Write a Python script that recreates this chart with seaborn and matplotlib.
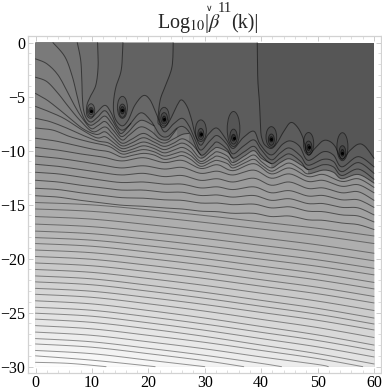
import numpy as np
import matplotlib
matplotlib.use("Agg")
import matplotlib.pyplot as plt
from matplotlib.patches import Ellipse
import seaborn as sns

# contour lines as (k, value) pairs, darkest level first
LINE_F = [(39.3,0),(39.4,-3.4),(39.7,-5.6),(39.9,-8.1),(40.2,-9.0),(40.7,-9.5),(41.8,-9.8),(42.8,-9.3),(43.9,-8.3),(45.2,-7.4),(46.4,-7.8),(47.4,-8.8),(48.3,-10.4),(49.5,-9.8),(50.9,-9.1),(52.0,-9.1),(53.1,-9.6),(54.3,-10.8),(55.7,-10.0),(57.2,-9.4),(58.4,-9.6),(60,-10.7)]
LINE_E = [(24.4,0),(24.2,-2.2),(23.1,-3.9),(22.1,-5.3),(21.7,-7.2),(22.0,-7.6),(22.8,-7.85),(23.8,-7.2),(25.1,-5.8),(25.9,-5.3),(26.9,-5.95),(27.7,-7.2),(28.3,-8.5),(29.3,-9.5),(30.6,-8.5),(32.1,-7.9),(33.6,-8.8),(35.0,-9.8),(36.8,-8.8),(38.7,-8.2),(39.8,-9.4),(41.8,-10.4),(43.8,-9.4),(45.2,-9.1),(46.8,-9.6),(48.3,-10.9),(51.0,-10.1),(52.8,-10.4),(54.3,-11.5),(57.2,-10.55),(60,-11.5)]
LINE_D = [(15.5,0),(15.2,-2.5),(14.2,-4.2),(13.8,-5.8),(14.1,-7.0),(15.3,-7.7),(16.4,-7.2),(17.6,-5.8),(19.1,-4.9),(20.3,-5.3),(21.5,-6.7),(22.8,-8.25),(24.5,-7.5),(26.0,-7.0),(27.2,-7.7),(28.3,-9.0),(29.3,-9.95),(30.9,-9.1),(32.2,-8.6),(33.9,-9.4),(35.0,-10.3),(36.8,-9.6),(38.7,-9.0),(40,-9.9),(41.8,-10.85),(43.4,-10.2),(45,-9.75),(47,-10.5),(48.3,-11.35),(51,-10.8),(52.8,-11.0),(54.3,-11.95),(57.2,-11.1),(60,-12.1)]
LINE_C = [(11,0),(11.1,-2.1),(10.7,-3.9),(9.7,-5.0),(9.1,-5.8),(9.1,-6.7),(9.84,-7.0),(10.8,-6.5),(12.3,-5.8),(13.4,-6.5),(14.3,-7.6),(15.3,-8.1),(16.5,-7.7),(18.6,-6.5),(20.4,-7.2),(22.0,-8.5),(23.4,-8.7),(25.1,-7.9),(26.3,-7.8),(27.5,-8.5),(29.3,-10.4),(31.2,-9.6),(32.2,-9.2),(34,-9.9),(35,-10.7),(37,-10.1),(38.7,-9.6),(40,-10.4),(41.8,-11.2),(43.4,-10.7),(45,-10.3),(47,-11),(48.3,-11.75),(51,-11.3),(52.8,-11.5),(54.3,-12.3),(57.2,-11.7),(60,-12.65)]
LINE_G = [(7.4,0),(8.0,-1.6),(8.2,-3.4),(8.3,-5.0),(8.5,-6.2),(9.0,-7.0),(9.84,-7.35),(11,-6.9),(12.3,-6.3),(13.5,-7.1),(14.5,-8.0),(15.3,-8.4),(16.9,-7.47)]
LINE_H = [(3.1,0),(5.2,-1.3),(6.5,-3.1),(7.4,-5.0),(8.1,-6.4),(8.9,-7.3),(9.84,-7.65),(11,-7.3),(12.3,-6.8),(13.5,-7.5),(14.5,-8.3),(15.3,-8.7),(16.4,-8.3),(18,-7.4),(19.1,-7.2),(21,-7.7)]
LINE_P1 = [(0,-1.5),(2,-1.95),(4,-3.0),(5.8,-4.7),(7.1,-6.0),(8.3,-7.0),(9.84,-7.95),(11,-7.7),(12.3,-7.3),(13.6,-8.0),(15.3,-9.0),(16.5,-8.6),(18.6,-7.8),(20.5,-8.2),(22,-8.9),(23.4,-9.0),(24.3,-8.5),(25.1,-7.95)]
LINE_P2 = [(0,-3.2),(2,-3.6),(4,-4.7),(5.8,-5.9),(7.9,-7.2),(10.2,-8.25),(12.3,-7.8),(13.6,-8.4),(15.3,-9.3),(17,-8.95),(19.1,-8.4),(21,-8.9),(22.8,-9.3),(24.5,-8.9),(26,-8.5),(27.2,-8.4)]
LINE_P3 = [(0,-4.7),(2,-5.3),(4,-6.1),(6.1,-7.0),(8.5,-8.0),(10.8,-8.5),(12.3,-8.25),(13.6,-8.8),(15.3,-9.55),(17,-9.3),(19.1,-8.8),(21,-9.2),(22.8,-9.6),(24.5,-9.3),(26,-8.9),(27.5,-9.3),(28.7,-10.0),(29.3,-10.4)]
LINE_P4 = [(0,-5.9),(2,-6.3),(5,-7.0),(8,-8.0),(10.8,-8.8),(12.3,-8.7),(13.6,-9.15),(15.3,-9.8),(17,-9.6),(19.1,-9.2),(21,-9.5),(22.8,-9.9),(24.5,-9.6),(26,-9.3),(27.5,-9.7),(29.3,-10.7),(31.2,-10.0),(32.2,-9.7),(34,-10.1),(35,-10.7)]
LINE_P5 = [(0,-7),(2.5,-7.3),(5.5,-7.9),(8.5,-8.6),(11,-9.1),(13,-9.3),(15.3,-10.05),(17,-9.9),(19.1,-9.55),(21,-9.8),(22.8,-10.2),(24.5,-9.95),(26,-9.7),(27.5,-10.1),(29.3,-11.0),(31.2,-10.4),(32.2,-10.1),(34,-10.5),(35,-11.1),(37,-10.5),(38.7,-10.0),(40,-10.7),(41.8,-11.2)]
LINE_P6 = [(0,-7.9),(3.1,-8.1),(6.1,-8.7),(9.6,-9.2),(13,-9.6),(15.3,-10.3),(17,-10.15),(19.1,-9.9),(21,-10.1),(22.8,-10.5),(24.5,-10.3),(26,-10.1),(27.5,-10.45),(29.3,-11.2),(31.2,-10.75),(32.2,-10.5),(34,-10.85),(35,-11.35),(37,-10.85),(38.7,-10.4),(40,-11),(41.8,-11.6),(43.4,-11.1),(45,-10.75),(47,-11.3),(48.3,-11.75)]
LINE_P7 = [(0,-8.85),(3.5,-9.1),(7,-9.5),(10.5,-9.9),(13,-10.1),(15.3,-10.6),(17,-10.45),(19.1,-10.25),(21,-10.4),(22.8,-10.8),(24.5,-10.65),(26,-10.45),(27.5,-10.8),(29.3,-11.45),(31.2,-11.05),(32.2,-10.9),(34,-11.2),(35,-11.6),(37,-11.15),(38.7,-10.8),(40,-11.3),(41.8,-11.9),(43.4,-11.5),(45,-11.15),(47,-11.7),(48.3,-12.15),(51,-11.8),(52.8,-12.0),(54.3,-12.6),(57.2,-12.2),(60,-13.0)]

# damped lines under the wells, values at the knots in WAVY_K
WAVY_K = [0,4,8,12,15.3,19.1,22.8,26,29.3,32.2,35,38.7,41.8,45,48.3,51,54.3,57.2,60]
WAVY_LINES = [
    [-9.69,-9.95,-10.3,-10.6,-10.95,-10.65,-11.1,-10.9,-11.65,-11.3,-11.85,-11.2,-12.15,-11.6,-12.4,-12.2,-12.85,-12.6,-13.4],
    [-10.49,-10.7,-11.0,-11.35,-11.6,-11.4,-11.7,-11.55,-12.1,-11.9,-12.25,-11.8,-12.55,-12.15,-12.85,-12.75,-13.3,-13.15,-13.9],
    [-11.26,-11.45,-11.75,-12.05,-12.25,-12.1,-12.4,-12.3,-12.75,-12.6,-12.9,-12.55,-13.2,-12.9,-13.5,-13.45,-13.9,-13.8,-14.6],
    [-12,-12.15,-12.45,-12.75,-12.95,-12.9,-13.1,-13.1,-13.45,-13.35,-13.6,-13.35,-13.9,-13.7,-14.2,-14.15,-14.55,-14.55,-15.25],
    [-12.74,-12.9,-13.2,-13.45,-13.65,-13.65,-13.85,-13.85,-14.15,-14.1,-14.3,-14.15,-14.6,-14.45,-14.9,-14.9,-15.25,-15.3,-15.95],
    [-13.48,-13.6,-13.9,-14.15,-14.35,-14.4,-14.55,-14.6,-14.85,-14.85,-15.0,-14.95,-15.3,-15.2,-15.6,-15.65,-15.95,-16.05,-16.6],
    [-14.17,-14.3,-14.6,-14.85,-15.05,-15.15,-15.3,-15.4,-15.6,-15.65,-15.8,-15.8,-16.1,-16.05,-16.4,-16.45,-16.7,-16.85,-17.3],
]

# nearly straight lines, values at k = 0, 10, ... 60
STRAIGHT_K = [0,10,20,30,40,50,60]
STRAIGHT_LINES = [
    [-14.8,-15.02,-15.48,-16.01,-16.6,-17.19,-17.9],
    [-15.4,-15.62,-16.1,-16.65,-17.26,-17.86,-18.6],
    [-16.1,-16.34,-16.85,-17.43,-18.07,-18.72,-19.5],
    [-16.8,-17.04,-17.55,-18.13,-18.77,-19.42,-20.2],
    [-17.45,-17.69,-18.21,-18.8,-19.45,-20.11,-20.9],
    [-18.05,-18.29,-18.81,-19.4,-20.05,-20.71,-21.5],
    [-18.6,-18.85,-19.39,-20.0,-20.69,-21.37,-22.2],
    [-19.2,-19.45,-19.99,-20.6,-21.29,-21.97,-22.8],
    [-19.8,-20.06,-20.61,-21.24,-21.95,-22.65,-23.5],
    [-20.4,-20.66,-21.21,-21.84,-22.55,-23.25,-24.1],
    [-21.0,-21.27,-21.84,-22.48,-23.2,-23.93,-24.8],
    [-21.6,-21.87,-22.46,-23.12,-23.86,-24.6,-25.5],
    [-22.15,-22.42,-23.01,-23.67,-24.41,-25.15,-26.05],
    [-22.75,-23.02,-23.6,-24.25,-24.98,-25.71,-26.6],
    [-23.3,-23.58,-24.18,-24.86,-25.62,-26.38,-27.3],
    [-23.9,-24.19,-24.8,-25.5,-26.28,-27.06,-28.0],
    [-24.5,-24.78,-25.38,-26.06,-26.82,-27.58,-28.5],
    [-25.05,-25.33,-25.94,-26.63,-27.4,-28.17,-29.1],
    [-25.6,-25.9,-26.5,-27.2,-28.0,-28.8,-29.75],
]
# the lowest lines run out through the bottom edge
LINE_B1 = [(0,-26.2),(10,-26.5),(20,-27.1),(30,-27.75),(40,-28.5),(50,-29.25),(58,-30)]
LINE_B2 = [(0,-26.8),(10,-27.1),(20,-27.7),(30,-28.35),(40,-29.1),(50,-29.8),(51.9,-30)]
LINE_B3 = [(0,-27.4),(10,-27.7),(20,-28.3),(30,-28.95),(40,-29.7),(43.6,-30)]
LINE_B4 = [(0,-27.9),(10,-28.2),(20,-28.8),(30,-29.45),(36.9,-30)]
LINE_B5 = [(0,-28.5),(10,-28.8),(20,-29.4),(30,-30)]
LINE_B6 = [(0,-29.0),(10,-29.4),(21.2,-30)]
LINE_B7 = [(0,-29.6),(6,-29.7),(12.5,-30)]

# wells: dot position and the three rings around each of them
WELL_K = [9.84,15.4,22.8,29.3,35.1,41.8,48.4,54.4]
WELL_Y = [-6.3,-6.25,-7.07,-8.5,-8.8,-8.95,-9.7,-10.2]
OUTER_Y = [-6.27,-5.99,-6.85,-8.15,-7.99,-8.73,-9.35,-9.63]
OUTER_W = [1.3,1.77,1.77,1.95,2.25,1.9,1.83,1.95]
OUTER_H = [1.23,2.04,1.73,2.0,3.24,1.91,2.07,2.59]
MIDDLE_Y = [-6.33,-6.3,-7.0,-8.46,-8.7,-8.98,-9.66,-10.15]
MIDDLE_W = [0.83,1.18,1.18,1.06,1.3,1.06,1.18,1.18]
MIDDLE_H = [0.68,1.23,1.05,1.05,1.39,1.05,1.11,1.23]
INNER_W = [0.47,0.71,0.59,0.59,0.71,0.59,0.59,0.59]
INNER_H = [0.37,0.68,0.56,0.49,0.62,0.49,0.56,0.62]

X_TICKS = [0,10,20,30,40,50,60]
Y_TICKS = [0,-5,-10,-15,-20,-25,-30]
BOTTOM = -30


def smooth(points, steps=8):
    p = np.array(points, dtype=float)
    p = np.vstack([p[0], p, p[-1]])
    out = []
    for i in range(1, len(p) - 2):
        m0 = (p[i + 1] - p[i - 1]) / 2
        m1 = (p[i + 2] - p[i]) / 2
        for t in np.linspace(0, 1, steps, endpoint=False):
            out.append((2*t**3 - 3*t**2 + 1) * p[i] + (t**3 - 2*t**2 + t) * m0
                       + (-2*t**3 + 3*t**2) * p[i + 1] + (t**3 - t**2) * m1)
    out.append(p[-2])
    return np.array(out)


sns.set_theme(style="white")
plt.rcParams["font.family"] = ["Liberation Serif", "DejaVu Serif"]
plt.rcParams["mathtext.fontset"] = "stix"

fig = plt.figure(figsize=(3.82, 3.92), dpi=100)
ax = fig.add_axes([28.3/382, 1 - 372.7/392, 352.2/382, 336.7/392])

lines = [LINE_F, LINE_E, LINE_D, LINE_C, LINE_G, LINE_H, LINE_P1, LINE_P2, LINE_P3,
         LINE_P4, LINE_P5, LINE_P6, LINE_P7]
lines += [list(zip(WAVY_K, vals)) for vals in WAVY_LINES]
lines += [list(zip(STRAIGHT_K, vals)) for vals in STRAIGHT_LINES]
lines += [LINE_B1, LINE_B2, LINE_B3, LINE_B4, LINE_B5, LINE_B6, LINE_B7]

top_bands = sns.blend_palette(["#565656", "#737373"], 6)
left_bands = sns.blend_palette(["#7a7a7a", "#fdfdfd"], len(lines) - 5)
bands = top_bands + left_bands

# darkest band first, every next contour paints its lighter side over it
ax.fill([0, 60, 60, 0], [0, 0, BOTTOM, BOTTOM], color=bands[0], lw=0, zorder=1)
curves = [smooth(line) for line in lines]
for i, curve in enumerate(curves):
    corners = [(curve[-1, 0], BOTTOM), (0, BOTTOM)]
    if curve[0, 1] == 0:
        corners.append((0, 0))
    poly = np.vstack([curve, corners])
    ax.fill(poly[:, 0], poly[:, 1], color=bands[i + 1], lw=0, zorder=1)

for i, curve in enumerate(curves):
    sns.lineplot(x=curve[:, 0], y=curve[:, 1], ax=ax, sort=False, estimator=None,
                 color="black", alpha=0.5 if i < 20 else 0.4, lw=0.72, zorder=3, legend=False)

# rings around the wells
for i in range(len(WELL_K)):
    rings = [(OUTER_Y[i], OUTER_W[i], OUTER_H[i], 0.07),
             (MIDDLE_Y[i], MIDDLE_W[i], MIDDLE_H[i], 0.14),
             (WELL_Y[i], INNER_W[i], INNER_H[i], 0.35)]
    for cy, w, h, shade in rings:
        ax.add_patch(Ellipse((WELL_K[i], cy), w, h, facecolor=(0, 0, 0, shade),
                             edgecolor=(0, 0, 0, 0.5), lw=0.65, zorder=4))
sns.scatterplot(x=WELL_K, y=WELL_Y, ax=ax, color="black", s=5, linewidth=0, zorder=5, legend=False)

ax.set_xlim(-1.28, 61.15)
ax.set_ylim(-30.56, 0.62)
ax.set_xticks(X_TICKS)
ax.set_yticks(Y_TICKS)
ax.set_xticks(np.arange(0, 61, 2), minor=True)
ax.set_yticks(np.arange(-30, 1, 1), minor=True)
ax.tick_params(which="major", direction="in", length=3.5, width=0.6, color="#c4c4c4",
               top=True, right=True, bottom=True, left=True, labelsize=11.5, labelcolor="black", pad=2)
ax.tick_params(which="minor", direction="in", length=2, width=0.5, color="#d0d0d0",
               top=True, right=True, bottom=True, left=True)
for spine in ax.spines.values():
    spine.set_color("#d2d2d2")
    spine.set_linewidth(0.9)
ax.set_xlabel("")
ax.set_ylabel("")

# title is put together in pieces, the check and the 11 sit well above the beta
fig.text(157/382, 1 - 28/392, r"Log$_{10}$|$\beta$", fontsize=14.5, ha="left", va="baseline")
fig.text(209/382, 1 - 11/392, "\u2228", fontsize=6.5, ha="center", va="baseline", family="DejaVu Sans")
fig.text(218/382, 1 - 12/392, "11", fontsize=10.5, ha="left", va="baseline")
fig.text(231/382, 1 - 28/392, "(k)|", fontsize=14.5, ha="left", va="baseline")

fig.savefig("out.png", dpi=100)
